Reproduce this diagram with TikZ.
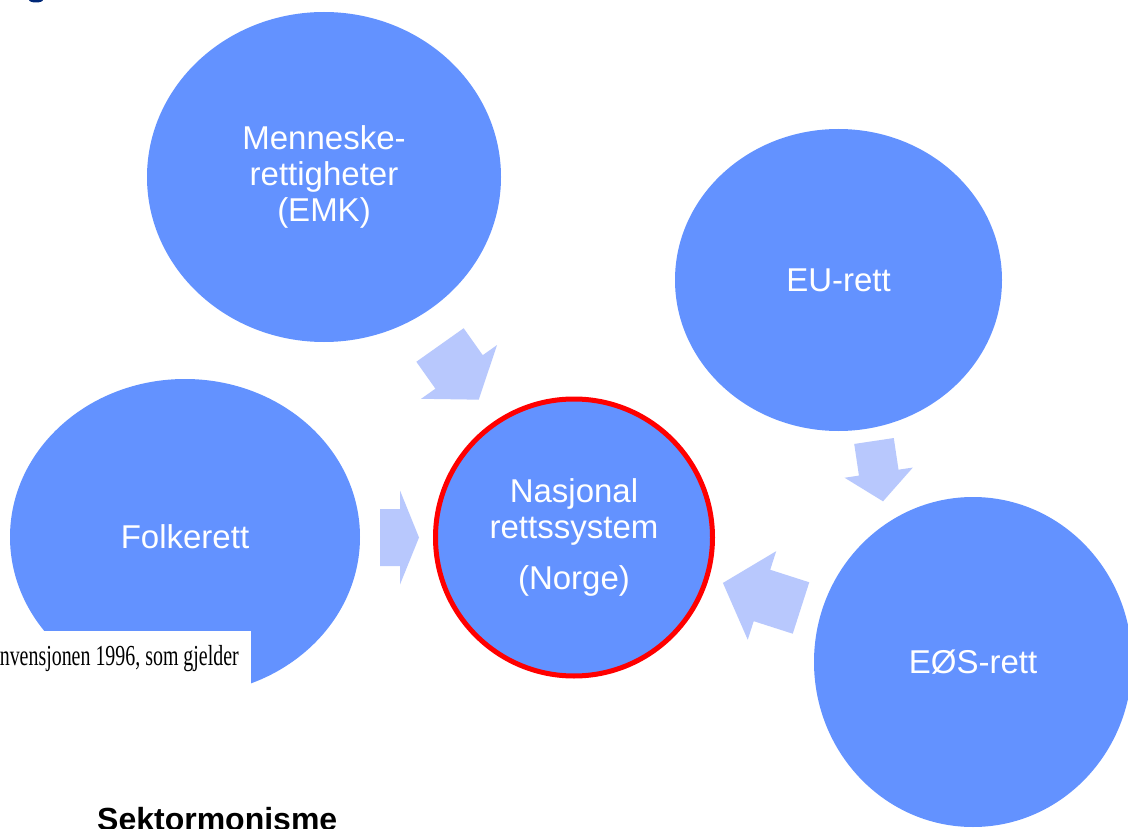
\documentclass[tikz,border=0pt]{standalone}
\usepackage{fontspec}
\usepackage{graphicx}
\setmainfont{Liberation Sans}
\newfontfamily\boxserif{Liberation Serif}
\usepackage{tikz}
\usetikzlibrary{calc,positioning,shapes}

\definecolor{sektorblue}{RGB}{99,146,255}
\definecolor{pilblue}{RGB}{184,200,253}
\definecolor{titlenavy}{RGB}{0,40,120}

\begin{document}
\begin{tikzpicture}[x=1pt,y=-1pt,
        sektor/.style={ellipse,fill=sektorblue,text=white,inner sep=0pt,align=center,
            font=\fontsize{33}{36}\selectfont},
        pil/.style={fill=pilblue}]
        \useasboundingbox[fill=white] (0,0) rectangle (1128,829);

        \fill[titlenavy] (36,0) ellipse[x radius=7,y radius=2.5];

        \foreach \px/\py/\ang/\len/\hd/\sw/\hw in
            {440/345/-54.7/67/34/58/93, 380/537.5/0/39/19/57/94,
             874/441/-81.5/61/29/40/69, 801/608/162.2/82/41/54/93}
            \fill[pil,shift={(\px,\py)},rotate=\ang]
                (0,{-\sw/2}) -- ({\len-\hd},{-\sw/2}) -- ({\len-\hd},{-\hw/2}) -- (\len,0)
                -- ({\len-\hd},{\hw/2}) -- ({\len-\hd},{\sw/2}) -- (0,{\sw/2}) -- cycle;

        \node[sektor,minimum width=354pt,minimum height=330pt] (men) at (324,177) {Menneske-\\rettigheter\\(EMK)};
        \node[sektor,minimum width=327pt,minimum height=302pt] (eu) at (838.5,280) {EU-rett};
        \node[sektor,minimum width=350pt,minimum height=316pt] (folk) at (185,537) {Folkerett};
        \node[sektor,circle,minimum size=277pt,draw=red,line width=5pt] (nas) at (574,537.5)
            {Nasjonal\\rettssystem\\[15pt](Norge)};
        \node[sektor,minimum width=318pt,minimum height=330pt] (eos) at (973,662) {EØS-rett};

        \fill[white] (0,631) rectangle (251,700);
        \node[anchor=base east,inner sep=0pt,font=\boxserif\fontsize{29}{29}\selectfont] (konv) at (239,665)
            {\resizebox{239pt}{\height}{nvensjonen 1996, som gjelder}};

        \node[anchor=base west,inner sep=0pt,font=\bfseries\fontsize{32}{36}\selectfont] (tittel) at (97,830)
            {Sektormonisme};
\end{tikzpicture}
\end{document}
